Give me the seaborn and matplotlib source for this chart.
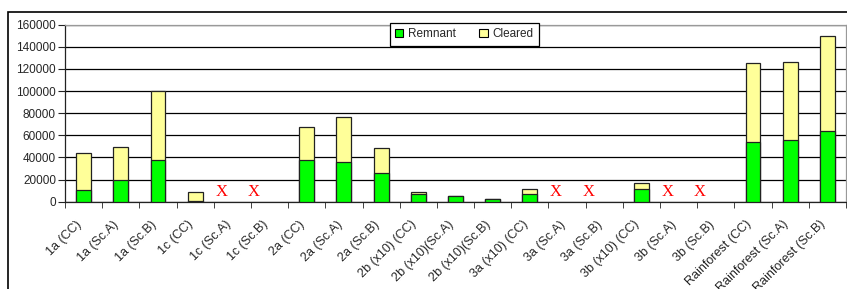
import matplotlib
matplotlib.use("Agg")
import matplotlib.pyplot as plt
import matplotlib.transforms as mtransforms
from matplotlib.patches import Rectangle, Patch
from matplotlib.ticker import FixedLocator
import numpy as np
import seaborn as sns

sns.set_style("white")
plt.rcParams['font.family'] = ['Liberation Sans', 'DejaVu Sans']

categories = ["1a (CC)", "1a (Sc.A)", "1a (Sc.B)", "1c (CC)", "1c (Sc.A)", "1c (Sc.B)",
              "2a (CC)", "2a (Sc.A)", "2a (Sc.B)", "2b (x10) (CC)", "2b (x10)(Sc.A)",
              "2b (x10)(Sc.B)", "3a (x10) (CC)", "3a (Sc.A)", "3a (Sc.B)", "3b (x10) (CC)",
              "3b (Sc.A)", "3b (Sc.B)", "Rainforest (CC)", "Rainforest (Sc.A)",
              "Rainforest (Sc.B)"]
remnant = [11000, 20000, 37500, 1000, 0, 0,
           37500, 35500, 26000, 6700, 4900, 2200,
           6700, 0, 0, 11200, 0, 0,
           53700, 55800, 64000]
cleared = [33000, 29500, 62500, 7500, 0, 0,
           30000, 41000, 22500, 2300, 0, 0,
           4500, 0, 0, 5700, 0, 0,
           71400, 70800, 85500]
# categories with no result, marked with a red X
missing = ["1c (Sc.A)", "1c (Sc.B)", "3a (Sc.A)", "3a (Sc.B)", "3b (Sc.A)", "3b (Sc.B)"]

# empty bars are left out instead of drawn flat on the axis
total = [np.nan if r + c == 0 else r + c for r, c in zip(remnant, cleared)]
rem = [np.nan if r == 0 else r for r in remnant]
green = "#00ff00"
yellow = "#ffff99"

fig = plt.figure(figsize=(8.47, 2.89), dpi=100)
ax = fig.add_axes([65 / 847, 1 - 201.7 / 289, 781 / 847, 177 / 289])

sns.barplot(x=categories, y=total, order=categories, color=yellow, saturation=1,
            width=0.4, edgecolor="#222222", linewidth=0.9, ax=ax, zorder=3)
sns.barplot(x=categories, y=rem, order=categories, color=green, saturation=1,
            width=0.4, edgecolor="#222222", linewidth=0.9, ax=ax, zorder=4)

for name in missing:
    i = categories.index(name)
    off = -0.3 if "Sc.A" in name else -0.43
    ax.text(i + off, 9000, "X", color="red", fontsize=12, ha="center", va="center",
            family=["Liberation Serif", "DejaVu Serif"], zorder=5)

ax.set_xlim(-0.5, len(categories) - 0.5)
ax.set_ylim(0, 160000)
ax.set_yticks(range(0, 160001, 20000))
ax.tick_params(axis="y", labelsize=8.5, length=5, direction="out", left=True,
               color="#222222", pad=1.5)
ax.yaxis.grid(True, color="black", linewidth=0.9)
ax.set_axisbelow(True)

ax.set_xticks(range(len(categories)))
ax.set_xticklabels(categories, rotation=45, ha="right", va="top",
                   rotation_mode="anchor", fontsize=9)
ax.tick_params(axis="x", which="major", length=0, pad=12)
shift = mtransforms.ScaledTranslation(-0.08, 0, fig.dpi_scale_trans)
for lab in ax.get_xticklabels():
    lab.set_transform(lab.get_transform() + shift)
ax.xaxis.set_minor_locator(FixedLocator([i + 0.5 for i in range(-1, len(categories))]))
ax.tick_params(axis="x", which="minor", length=4, bottom=True, color="#222222")
ax.set_xlabel("")
ax.set_ylabel("")

for side in ["top", "right"]:
    ax.spines[side].set_color("#999999")
    ax.spines[side].set_linewidth(0.9)
for side in ["left", "bottom"]:
    ax.spines[side].set_color("#222222")
    ax.spines[side].set_linewidth(0.9)

handles = [Patch(facecolor=green, edgecolor="black", linewidth=0.8),
           Patch(facecolor=yellow, edgecolor="black", linewidth=0.8)]
leg = ax.legend(handles, ["Remnant", "Cleared"], loc="upper center",
                bbox_to_anchor=(0.511, 1.01), ncol=2, fontsize=8.5, frameon=True,
                fancybox=False, edgecolor="black", framealpha=1,
                handlelength=0.7, handleheight=0.7, handletextpad=0.4,
                columnspacing=2.0, borderpad=0.45, borderaxespad=0)
leg.get_frame().set_linewidth(0.9)
leg.set_zorder(6)

fig.patches.append(Rectangle((8 / 847, -0.2), 1.2, 1.2 - 12 / 289,
                             transform=fig.transFigure, fill=False,
                             edgecolor="black", linewidth=1.2))

fig.savefig("out.png", dpi=100)
